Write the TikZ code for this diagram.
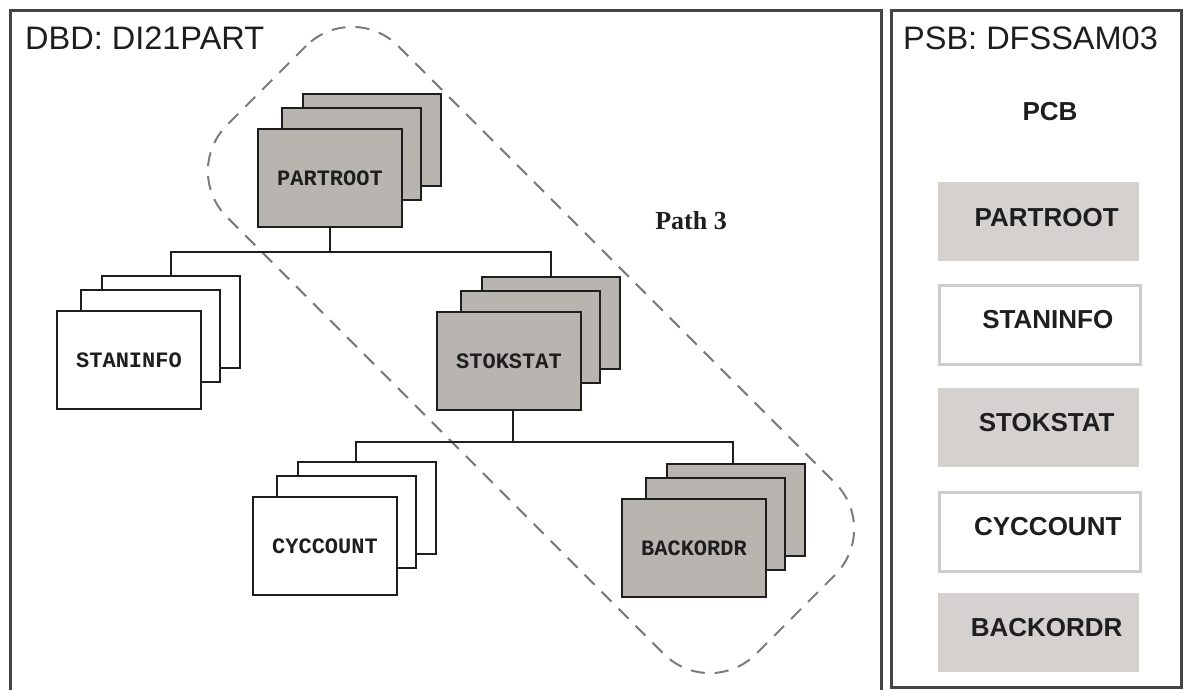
\documentclass[tikz,border=0pt]{standalone}
\usepackage{fontspec}
\setmainfont{Liberation Sans}
\newfontfamily\segfont{Liberation Mono}
\newfontfamily\pathfont{Liberation Serif}
\definecolor{seggray}{HTML}{B8B4B0}
\definecolor{pcbgray}{HTML}{D4D1CE}
\definecolor{pcbline}{HTML}{CFCDCB}
\definecolor{framecol}{HTML}{444444}
\definecolor{dashcol}{HTML}{7C7C7C}
\definecolor{inkcol}{HTML}{1E1E1E}
\newcommand{\segstack}[5]{%
  \node[segback, fill=#4] (#13) at (#2+45,#3-35) {};
  \node[segmid, fill=#4] (#12) at (#2+24,#3-21) {};
  \node[segfront, fill=#4] (#1) at (#2,#3) {#5};
}
\begin{document}
\begin{tikzpicture}[x=1pt,y=-1pt,
  frame/.style={draw=framecol, line width=3pt},
  segbase/.style={draw=inkcol, line width=2pt, inner sep=0pt, outer sep=0pt, anchor=north west,
    font=\segfont\bfseries\fontsize{22}{24}\selectfont, text=inkcol},
  segfront/.style={segbase, minimum width=144pt, minimum height=98pt},
  segmid/.style={segbase, minimum width=139pt, minimum height=92pt},
  segback/.style={segbase, minimum width=138pt, minimum height=92pt},
  conn/.style={draw=inkcol, line width=2pt},
  pathline/.style={draw=dashcol, line width=2pt, dash pattern=on 14pt off 10pt},
  title/.style={anchor=base west, inner sep=0pt, font=\fontsize{32.5}{36}\selectfont, text=inkcol},
  pcbbox/.style={anchor=north west, inner sep=0pt, minimum width=201pt, minimum height=79pt},
  pcbfilled/.style={pcbbox, fill=pcbgray},
  pcbempty/.style={pcbbox, fill=white, draw=pcbline, line width=2.5pt},
  pcbtext/.style={inner sep=0pt, font=\bfseries\fontsize{26}{28}\selectfont, text=inkcol}
]
\path[use as bounding box] (0,0) rectangle (1184,690);
\clip (0,0) rectangle (1184,690);
\fill[white] (0,0) rectangle (1184,690);

% panels
\draw[frame] (10,11) rectangle (881,700);
\draw[frame] (891,11) rectangle (1181,687);
\node[title] (dbd) at (25,50) {DBD: DI21PART};
\node[title] (psb) at (903,50) {PSB: DFSSAM03};

% path 3 outline
\draw[pathline, rotate around={-45:(531,350)}, rounded corners=65pt] (157,229) rectangle (905,471);
\node[inner sep=0pt, font=\pathfont\bfseries\fontsize{26}{28}\selectfont, text=inkcol] (p3) at (691,221) {Path 3};

% segment stacks
\segstack{pr}{258}{129}{seggray}{PARTROOT}
\segstack{st}{57}{311}{white}{STANINFO}
\segstack{ss}{437}{312}{seggray}{STOKSTAT}
\segstack{cc}{253}{497}{white}{CYCCOUNT}
\segstack{bo}{622}{499}{seggray}{BACKORDR}

% connectors
\draw[conn] (pr.south) -- ++(0,25) coordinate (j1);
\draw[conn] (st3.north) |- (j1) -| (ss3.north);
\draw[conn] ([xshift=4pt]ss.south) -- ++(0,32) coordinate (j2);
\draw[conn] ([xshift=-11pt]cc3.north) |- (j2) -| ([xshift=-3pt]bo3.north);

% PCB column
\node[pcbtext] (pcb) at (1050,112) {PCB};
\node[pcbfilled] (r1) at (938,182) {};
\node[pcbempty]  (r2) at (938,284) {};
\node[pcbfilled] (r3) at (938,388) {};
\node[pcbempty]  (r4) at (938,491) {};
\node[pcbfilled] (r5) at (938,593) {};
\node[pcbtext] at ([xshift=8pt,yshift=4pt]r1.center) {PARTROOT};
\node[pcbtext] at ([xshift=8pt,yshift=5pt]r2.center) {STANINFO};
\node[pcbtext] at ([xshift=8pt,yshift=5pt]r3.center) {STOKSTAT};
\node[pcbtext] at ([xshift=8pt,yshift=5pt]r4.center) {CYCCOUNT};
\node[pcbtext] at ([xshift=8pt,yshift=5pt]r5.center) {BACKORDR};
\end{tikzpicture}
\end{document}
